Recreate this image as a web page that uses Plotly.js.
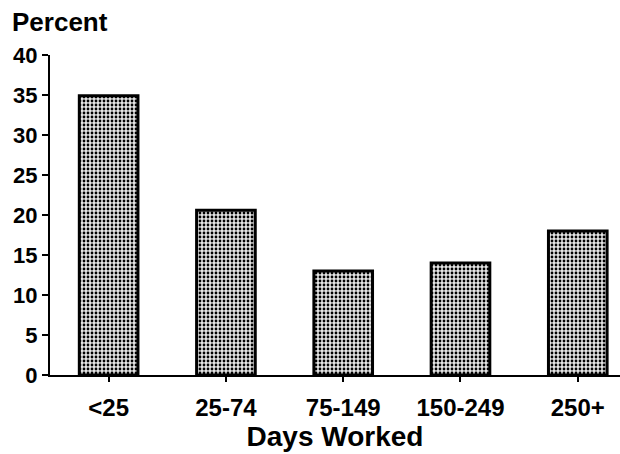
<!DOCTYPE html>
<html><head><meta charset="utf-8">
<script src="https://cdn.plot.ly/plotly-3.0.1.min.js"></script>
<style>html,body{margin:0;padding:0;background:#fff}#c{width:620px;height:454px}</style>
</head><body><div id="c"></div>
<script>
const categories = ["<25", "25-74", "75-149", "150-249", "250+"];
const percentValues = [34.9, 20.6, 13.0, 14.0, 18.0];
const yTickValues = [0, 5, 10, 15, 20, 25, 30, 35, 40];

const font = {family: "Liberation Sans, Arial, sans-serif", color: "#000"};
Plotly.newPlot("c", [{
  type: "bar", x: categories, y: percentValues, width: 0.5,
  marker: {color: "#d8d8d8", line: {color: "#000", width: 3},
    pattern: {shape: ".", fgcolor: "#000", bgcolor: "#e4e4e4", size: 4, solidity: 0.38}},
  hoverinfo: "none"
}], {
  width: 620, height: 454, showlegend: false,
  margin: {l: 50, r: 0, t: 55, b: 79},
  paper_bgcolor: "#fff", plot_bgcolor: "#fff",
  font: Object.assign({size: 19}, font),
  xaxis: {type: "category", range: [-0.5, 4.36], showline: true, linecolor: "#000", linewidth: 2,
    ticks: "outside", ticklen: 5, tickwidth: 2, tickcolor: "#000", showgrid: false, zeroline: false,
    ticklabelstandoff: 5,
    tickfont: Object.assign({size: 24, weight: "bold"}, font),
    title: {text: "<b>Days Worked</b>", font: Object.assign({size: 28}, font), standoff: 1}},
  yaxis: {range: [0, 40], tickvals: yTickValues, showline: true, linecolor: "#000", linewidth: 2,
    ticks: "outside", ticklen: 6, tickwidth: 2, tickcolor: "#000", showgrid: false, zeroline: false,
    tickfont: Object.assign({size: 22, weight: "bold"}, font)},
  annotations: [{text: "<b>Percent</b>", xref: "paper", yref: "paper", x: -0.07, y: 1.0, yshift: 33,
    xanchor: "left", yanchor: "middle", showarrow: false, font: Object.assign({size: 26}, font)}]
}, {staticPlot: true});
</script></body></html>
